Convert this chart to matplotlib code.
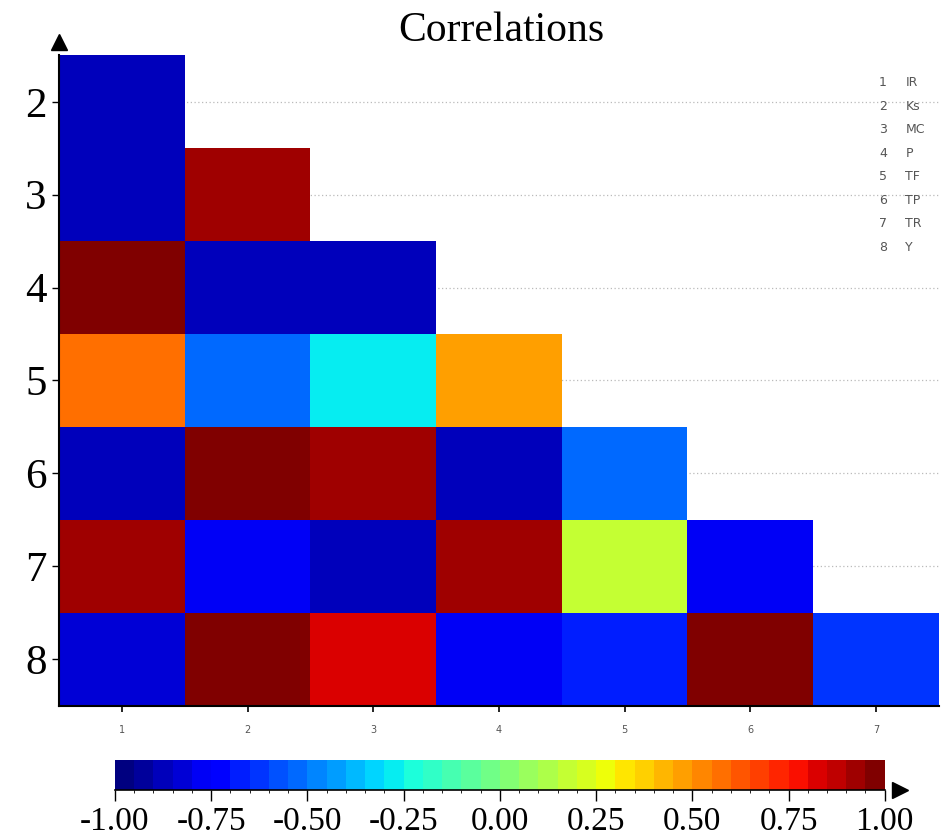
import numpy as np
import matplotlib.pyplot as plt
from matplotlib.colors import BoundaryNorm

variables = ["IR", "Ks", "MC", "P", "TF", "TP", "TR", "Y"]
row_labels = [2, 3, 4, 5, 6, 7, 8]
col_labels = [1, 2, 3, 4, 5, 6, 7]
nan = np.nan

# lower triangle of the correlation matrix (row i vs column j, j < i)
r2 = [-0.88, nan, nan, nan, nan, nan, nan]
r3 = [-0.88, 0.91, nan, nan, nan, nan, nan]
r4 = [0.96, -0.88, -0.88, nan, nan, nan, nan]
r5 = [0.59, -0.55, -0.26, 0.48, nan, nan, nan]
r6 = [-0.89, 0.96, 0.91, -0.89, -0.51, nan, nan]
r7 = [0.91, -0.78, -0.89, 0.91, 0.19, -0.78, nan]
r8 = [-0.84, 0.96, 0.85, -0.79, -0.69, 0.96, -0.62]

corr = np.ma.masked_invalid(np.array([r2, r3, r4, r5, r6, r7, r8]))
cb_ticks = [-1.0, -0.75, -0.5, -0.25, 0.0, 0.25, 0.5, 0.75, 1.0]

serif = "Liberation Serif"

fig = plt.figure(figsize=(9.41, 8.39), dpi=100)
ax = fig.add_axes([0.0627, 0.159, 0.935, 0.775])

levels = np.linspace(-1, 1, 41)
cmap = plt.get_cmap("jet")
norm = BoundaryNorm(levels, cmap.N)

for y in row_labels:
    ax.axhline(y, color="#bbbbbb", lw=0.9, ls=(0, (1, 2)), zorder=0)

xe = np.arange(len(col_labels) + 1) + 0.5
ye = np.arange(len(row_labels) + 1) + 1.5
mesh = ax.pcolormesh(xe, ye, corr, cmap=cmap, norm=norm, zorder=1)

ax.set_xlim(0.5, 7.5)
ax.set_ylim(8.5, 1.5)
ax.set_xticks(col_labels)
ax.set_xticklabels([str(c) for c in col_labels], fontsize=7, color="#555555")
ax.set_yticks(row_labels)
ax.set_yticklabels([str(r) for r in row_labels], fontsize=31, family=serif)
ax.tick_params(axis="x", length=4, width=1.2, pad=10)
ax.tick_params(axis="y", length=5, width=1, pad=4)
ax.spines["top"].set_visible(False)
ax.spines["right"].set_visible(False)
ax.spines["left"].set_linewidth(1.5)
ax.spines["bottom"].set_linewidth(1.5)
ax.plot([0], [1.02], marker="^", color="black", markersize=11,
        transform=ax.transAxes, clip_on=False)

for i, name in enumerate(variables):
    yy = 0.958 - i * 0.0362
    ax.text(0.941, yy, str(i + 1), transform=ax.transAxes, fontsize=9,
            color="#555555", ha="right", va="center")
    ax.text(0.962, yy, name, transform=ax.transAxes, fontsize=9,
            color="#555555", ha="left", va="center")

fig.text(0.533, 0.963, "Correlations", ha="center", va="center",
         fontsize=30, family=serif)

cax = fig.add_axes([0.1222, 0.0584, 0.818, 0.0358])
cb = fig.colorbar(mesh, cax=cax, orientation="horizontal", ticks=cb_ticks)
cb.outline.set_visible(False)
cb.ax.set_xticklabels(["%.2f" % t for t in cb_ticks], fontsize=24, family=serif)
cb.ax.tick_params(length=8, width=1, pad=4)
cax.plot([1.02], [0], marker=">", color="black", markersize=11,
         transform=cax.transAxes, clip_on=False)
cax.plot([0, 1.0], [0, 0], color="black", lw=1.2,
         transform=cax.transAxes, clip_on=False)

fig.savefig("out.png", dpi=100)
